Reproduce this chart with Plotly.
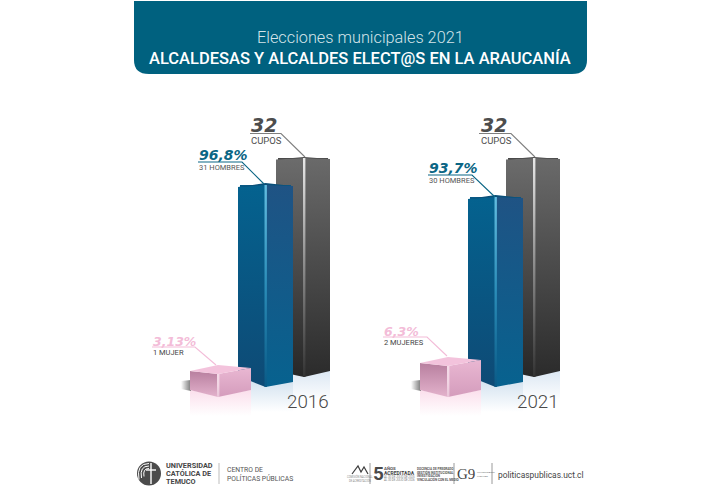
import plotly.graph_objects as go

# ---- data ----
YEARS = ["2016", "2021"]
CUPOS = [32, 32]
HOMBRES = [31, 30]
MUJERES = [1, 2]
CUPOS_LABEL = ["32", "32"]
HOMBRES_PCT = ["96,8%", "93,7%"]
MUJERES_PCT = ["3,13%", "6,3%"]
HOMBRES_TXT = ["31 HOMBRES", "30 HOMBRES"]
MUJERES_TXT = ["1 MUJER", "2 MUJERES"]
TITLE_TOP = "Elecciones municipales 2021"
TITLE_MAIN = "ALCALDESAS Y ALCALDES ELECT@S EN LA ARAUCANÍA"

# ---- page and scale set-up ----
W, H = 720, 500
GROUP_STEP = 230            # horizontal distance between the two year groups

# Each series has its own perspective scale, as the columns stand at different depths.
# cap = pixel offsets of the left corner, right corner and back corner from the front top.
# rise = how far the left and right floor corners sit above the front floor corner.
SERIES = {
    "cupos": dict(bar_axis="y2", face_axis="y3", ppu=6.84, ref=(32, 158), floor_px=377,
                  clip=371, rise=(6, 6), xs=(276, 304, 330), cap=(1.5, 1, -1), bar="#4a4a4a",
                  left=["#6c6c6c", "#272727"], right=["#6a6a6a", "#2b2b2b"],
                  top="#4a4a4a", stripe=["#e8e8e8", "#8a8a8a", "#333333"]),
    "hombres": dict(bar_axis="y4", face_axis="y5", ppu=12.0, ref=(31, 185), floor_px=387,
                    clip=376, rise=(11, 5), xs=(238, 265.5, 293), cap=(2, 1, -2), bar="#0a5a86",
                    left=["#04628f", "#0e4a75"], right=["#1f5384", "#07628f"],
                    top="#0a4f78", stripe=["#63bde0", "#2b8db8", "#0a5a86"]),
    "mujeres": dict(bar_axis="y6", face_axis="y7", ppu=8.0, ref=(1, 374), floor_px=397,
                    clip=390, rise=(7, 7), xs=(190, 218, 251), cap=(-3, -6, -9), bar="#dba6c3",
                    left=["#b87f9f", "#e3b2cc"], right=["#e9b7d2", "#d49cbc"],
                    top="#f3c3dc", stripe=["#f4dbe8", "#f2d5e4", "#e9c4d8"]),
}

fig = go.Figure()


def polygon(xs, ys, axis, colors, kind="vertical"):
    """Closed filled area; colours run top to bottom (or left to right)."""
    ramp = colors[::-1] if kind == "vertical" else colors
    scale = [[i / (len(ramp) - 1), c] for i, c in enumerate(ramp)]
    fig.add_trace(go.Scatter(
        x=list(xs) + [xs[0]], y=list(ys) + [ys[0]], xaxis="x", yaxis=axis,
        mode="lines", line=dict(width=0, color=colors[0]), fill="toself",
        fillgradient=dict(type=kind, colorscale=scale),
        hoverinfo="skip", showlegend=False, cliponaxis=False,
    ))


def prism(name, values):
    """A real bar for each value, dressed with two faces, a top cap and a highlight."""
    s = SERIES[name]
    ppu, (ref_v, ref_px) = s["ppu"], s["ref"]
    ax = s["face_axis"]
    xl, xc, xr = s["xs"]
    fc = ref_v + (ref_px - s["floor_px"]) / ppu
    fl, fr = fc + s["rise"][0] / ppu, fc + s["rise"][1] / ppu
    mids = [(xl + xr) / 2 + i * GROUP_STEP for i in range(len(values))]
    fig.add_trace(go.Bar(x=mids, y=values, xaxis="x", yaxis=s["bar_axis"], width=xr - xl - 4,
                         marker=dict(color=s["bar"], line=dict(width=0)),
                         hoverinfo="skip", showlegend=False))
    for i, v in enumerate(values):
        d = i * GROUP_STEP
        top_l, top_r, back = [v - c / ppu for c in s["cap"]]
        polygon([xl + d, xc + d, xc + d, xl + d], [top_l, v, fc, fl], ax, s["left"])
        polygon([xc + d, xr + d, xr + d, xc + d], [v, top_r, fr, fc], ax, s["right"])
        polygon([xl + d, xc + d, xr + d, xc + d], [top_l, v, top_r, back], ax, [s["top"], s["top"]])
        polygon([xc - 1 + d, xc + 1.4 + d, xc + 1.4 + d, xc - 1 + d], [v, v, fc, fc], ax, s["stripe"])


# ---- soft reflections and contact shadows, behind everything ----
for i in range(2):
    d = i * GROUP_STEP
    polygon([293 + d, 330 + d, 330 + d, 293 + d], [372, 370, 402, 402], "y", ["#dbe7f3", "#ffffff"])
    polygon([250 + d, 265 + d, 293 + d, 293 + d, 250 + d], [381, 386, 381, 412, 412], "y",
            ["#d4e3f0", "#ffffff"])
    polygon([190 + d, 218 + d, 251 + d, 251 + d, 190 + d], [390, 396, 390, 416, 416], "y",
            ["#fbdfec", "#ffffff"])
    polygon([181 + d, 191 + d, 191 + d, 181 + d], [381, 380, 391, 389], "y", ["#ffffff", "#777777"],
            kind="horizontal")

# back to front: seats, men, women
prism("cupos", CUPOS)
prism("hombres", HOMBRES)
prism("mujeres", MUJERES)

# ---- leader lines ----
GRAY, BLUE, PINK = "#7f7f7f", "#0b6685", "#f3bcd8"
LEADERS = [
    (GRAY, [(250, 133.5), (281, 133.5), (305, 157)]),
    (GRAY, [(479, 133.5), (511, 133.5), (535, 157)]),
    (BLUE, [(198, 162), (242, 162), (264, 184)]),
    (BLUE, [(428, 175), (472, 175), (495, 197)]),
    (PINK, [(152, 347), (195, 347), (216, 365)]),
    (PINK, [(383, 337), (427, 337), (447, 356)]),
]
for color, pts in LEADERS:
    fig.add_trace(go.Scatter(x=[p[0] for p in pts], y=[p[1] for p in pts], xaxis="x", yaxis="y8",
                             mode="lines", line=dict(color=color, width=1.1),
                             hoverinfo="skip", showlegend=False))

# ---- texts ----
notes = []


def text(x, y, s, size, color, family="Roboto", anchor="left", weight=400, style="normal"):
    notes.append(dict(x=x, y=y, xref="x", yref="y", text=s, showarrow=False, xanchor=anchor,
                      yanchor="middle", borderpad=0,
                      font=dict(size=size, color=color, family=family, weight=weight, style=style)))


DV = "DejaVu Sans"
text(360, 37.5, TITLE_TOP, 16.3, "#d5e4e9", anchor="center", weight=300)
text(360, 58, TITLE_MAIN, 16.5, "#ffffff", anchor="center", weight=500)

for i, (x, y) in enumerate([(250, 125), (480, 125)]):
    text(x, y, CUPOS_LABEL[i], 19, "#4d4d4d", DV, weight=700, style="italic")
    text(x, y + 15.5, "CUPOS", 9.5, "#4d4d4d")
for i, (x, y) in enumerate([(198, 155), (428, 168)]):
    text(x, y, HOMBRES_PCT[i], 14, BLUE, DV, weight=700, style="italic")
    text(x, y + 12, HOMBRES_TXT[i], 7.5, "#555555")
for i, (x, y) in enumerate([(152, 341), (383, 331)]):
    text(x, y, MUJERES_PCT[i], 12.5, PINK, DV, weight=700, style="italic")
    text(x, y + 11, MUJERES_TXT[i], 7.5, "#444444")
text(330, 402, YEARS[0], 18.8, "#4a4a4a", anchor="right", weight=300)
text(560, 402, YEARS[1], 18.8, "#4a4a4a", anchor="right", weight=300)

# footer: university block
for y, s in zip((465.5, 473.5, 481), ("UNIVERSIDAD", "CATÓLICA DE", "TEMUCO")):
    text(164.5, y, s, 7.3, "#454545", weight=700)
text(226, 470, "CENTRO DE", 6.8, "#555555")
text(226, 478, "POLÍTICAS PÚBLICAS", 6.8, "#555555")

# footer: accreditation block and web address
text(372, 473, "5", 19, "#4a4a4a", weight=700)
text(383, 468, "AÑOS", 4.4, "#555555", weight=700)
text(383, 473, "ACREDITADA", 5, "#444444", weight=700)
for y, s in zip((477, 480), ("AL 30 DE JULIO DE 2025", "AL 30 DE JULIO DE 2026")):
    text(383, y, s, 2.8, "#777777")
for y, s in zip((468.5, 472, 475.5, 479),
                ("DOCENCIA DE PREGRADO", "GESTIÓN INSTITUCIONAL", "INVESTIGACIÓN", "VINCULACIÓN CON EL MEDIO")):
    text(416, y, s, 3.1, "#555555", weight=700)
text(456, 474, "G9", 15, "#444444", "Liberation Serif")
text(476, 472, "UNIVERSIDADES", 2.4, "#777777")
text(476, 476, "PÚBLICAS", 2.4, "#777777")
text(360, 476.5, "COMISIÓN NACIONAL", 2.6, "#888888", anchor="center")
text(360, 480, "DE ACREDITACIÓN", 2.6, "#888888", anchor="center")
text(497, 475, "politicaspublicas.uct.cl", 8.4, "#444444")

# ---- banner and footer furniture ----
shapes = [
    dict(type="path", xref="x", yref="y", layer="below", line=dict(width=0), fillcolor="#00617f",
         path="M134 1 L587 1 L587 60 Q587 74 572 74 L149 74 Q134 74 134 60 Z"),
    dict(type="circle", xref="x", yref="y", x0=137, y0=461.5, x1=161, y1=485.5,
         fillcolor="#4b4b4b", line=dict(width=0)),
]
for r in (10, 7.5, 5):
    shapes.append(dict(type="path", xref="x", yref="y", fillcolor="rgba(0,0,0,0)",
                       line=dict(color="#ffffff", width=1),
                       path=f"M149 {473.5 - r} Q{149 - r * 1.3} {473.5 - r} {149 - r} {473.5 + r * 0.6}"))
shapes.append(dict(type="line", xref="x", yref="y", x0=151, x1=151, y0=463, y1=484,
                   line=dict(color="#ffffff", width=1.4)))
shapes.append(dict(type="line", xref="x", yref="y", x0=146, x1=156, y0=470, y1=470,
                   line=dict(color="#ffffff", width=1.4)))
for x, col in ((219, "#bdbdbd"), (370, "#9a9a9a"), (454, "#9a9a9a"), (492, "#9a9a9a")):
    shapes.append(dict(type="line", xref="x", yref="y", x0=x, x1=x, y0=463, y1=484,
                       line=dict(color=col, width=1)))
shapes.append(dict(type="path", xref="x", yref="y", fillcolor="rgba(0,0,0,0)",
                   line=dict(color="#3d3d3d", width=1.2),
                   path="M352 474 L358 466 L361 472 L364 467 L368 474"))

# ---- axes ----
hidden = dict(visible=False, fixedrange=True)
axes = dict(
    xaxis=dict(range=[0, W], domain=[0, 1], **hidden),
    yaxis=dict(range=[H, 0], domain=[0, 1], **hidden),
    yaxis8=dict(range=[H, 0], domain=[0, 1], anchor="x", **hidden),
)
for s in SERIES.values():
    ref_v, ref_px, ppu = s["ref"][0], s["ref"][1], s["ppu"]
    top_v = ref_v + ref_px / ppu
    # bars stop at the clip line; the faces keep the same scale over the whole page
    axes["yaxis" + s["bar_axis"][1:]] = dict(range=[ref_v + (ref_px - s["clip"]) / ppu, top_v],
                                             domain=[1 - s["clip"] / H, 1], anchor="x", **hidden)
    axes["yaxis" + s["face_axis"][1:]] = dict(range=[ref_v + (ref_px - H) / ppu, top_v],
                                              domain=[0, 1], anchor="x", **hidden)

fig.update_layout(
    width=W, height=H, margin=dict(l=0, r=0, t=0, b=0), autosize=False,
    paper_bgcolor="#ffffff", plot_bgcolor="rgba(0,0,0,0)", barmode="overlay",
    showlegend=False, annotations=notes, shapes=shapes, **axes,
)

fig.write_html("out.html", config=dict(displayModeBar=False, responsive=False))
